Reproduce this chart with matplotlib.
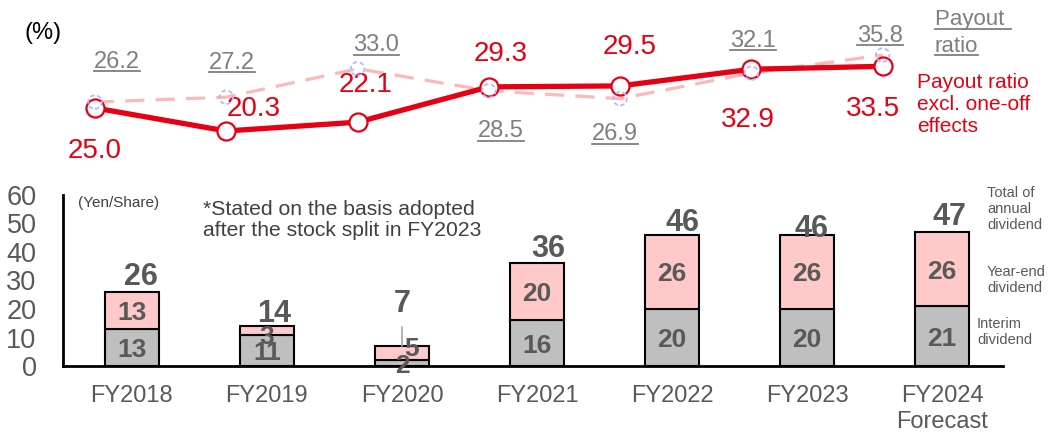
import matplotlib.pyplot as plt
from matplotlib.lines import Line2D

plt.rcParams['font.family'] = ['Liberation Sans', 'DejaVu Sans']

# data
years = ['FY2018', 'FY2019', 'FY2020', 'FY2021', 'FY2022', 'FY2023', 'FY2024\nForecast']
interim = [13, 11, 2, 16, 20, 20, 21]
year_end = [13, 3, 5, 20, 26, 26, 26]
total = [26, 14, 7, 36, 46, 46, 47]
payout_excl = [25.0, 20.3, 22.1, 29.3, 29.5, 32.9, 33.5]
payout = [26.2, 27.2, 33.0, 28.5, 26.9, 32.1, 35.8]

# label layout (pixel offsets)
excl_off = [(0, -40), (27, 25), (8, 40), (12, 36), (10, 42), (-3, -48), (-10, -40)]
payout_off = [(22, 43), (6, 37), (19, 26), (12, -38), (-5, -33), (2, 35), (-3, 22)]
total_off = [(9, 18), (7, 16), (0, 46), (11, 18), (10, 15), (4, 9), (7, 19)]
year_end_off = [(0, 0), (0, -4), (10, 7), (0, 0), (0, 0), (0, 0), (0, 0)]

RED = '#e60012'
GRAY_TXT = '#7f7f7f'
DARK = '#595959'

fig = plt.figure(figsize=(10.52, 4.32), dpi=100)

# ---- top: payout ratio lines
ax_t = fig.add_axes([29.3 / 1052, 1 - 170 / 432, 919 / 1052, 150 / 432])
ax_t.set_xlim(-0.5, 6.5)
ax_t.set_ylim(12.34, 42.95)
ax_t.axis('off')
xs = list(range(len(years)))

ax_t.plot(xs, payout, color='#ffb8b8', lw=2.3, linestyle=(0, (6, 3.5)), zorder=2)
ax_t.plot(xs, payout_excl, color=RED, lw=3.8, marker='o', ms=13,
          mfc='white', mec=RED, mew=1.6, zorder=3)
ax_t.scatter(xs, payout, s=95, facecolors='none', edgecolors='#b8b8ff',
             linewidths=1.3, linestyles=(0, (2.5, 1.5)), zorder=4)

underlined = []
for i in xs:
    ax_t.annotate(f'{payout_excl[i]:.1f}', (i, payout_excl[i]), xytext=excl_off[i],
                  textcoords='offset pixels', ha='center', va='center_baseline',
                  color=RED, fontsize=20)
    t = ax_t.annotate(f'{payout[i]:.1f}', (i, payout[i]), xytext=payout_off[i],
                      textcoords='offset pixels', ha='center', va='center_baseline',
                      color=GRAY_TXT, fontsize=17)
    underlined.append(t)

fig.text(25 / 1052, 1 - 33 / 432, '(%)', fontsize=17, color='black', va='center')
underlined.append(fig.text(935 / 1052, 1 - 20 / 432, 'Payout ', fontsize=16,
                           color=GRAY_TXT, va='center'))
underlined.append(fig.text(935 / 1052, 1 - 46 / 432, 'ratio', fontsize=16,
                           color=GRAY_TXT, va='center'))
fig.text(917 / 1052, 1 - 105 / 432, 'Payout ratio\nexcl. one-off\neffects',
         fontsize=15, color=RED, va='center', ha='left', linespacing=1.2)

# ---- bottom: dividend bars
ax = fig.add_axes([63 / 1052, 1 - 366 / 432, 940 / 1052, 171 / 432])
ax.set_xlim(-0.51, 6.45)
ax.set_ylim(0, 60)
ax.patch.set_alpha(0)
w = 0.4
ax.bar(xs, interim, w, color='#bfbfbf', edgecolor='black', linewidth=1.5, zorder=2)
ax.bar(xs, year_end, w, bottom=interim, color='#ffc9c9', edgecolor='black',
       linewidth=1.5, zorder=2)

for i in xs:
    ax.text(i, interim[i] / 2, str(interim[i]), ha='center', va='center_baseline',
            fontsize=19, fontweight='bold', color=DARK, zorder=3)
    ax.annotate(str(year_end[i]), (i, interim[i] + year_end[i] / 2), xytext=year_end_off[i],
                textcoords='offset pixels', ha='center', va='center_baseline',
                fontsize=19, fontweight='bold', color=DARK, zorder=3)
    arrow = None
    if total_off[i][1] > 30:
        arrow = dict(arrowstyle='-', color='#a6a6a6', lw=1.2, shrinkA=4, shrinkB=0)
    ax.annotate(str(total[i]), (i, total[i]), xytext=total_off[i],
                textcoords='offset pixels', ha='center', va='center_baseline',
                fontsize=22, fontweight='bold', color=DARK, arrowprops=arrow)

for s in ['top', 'right']:
    ax.spines[s].set_visible(False)
for s in ['left', 'bottom']:
    ax.spines[s].set_linewidth(2)
ax.set_yticks(range(0, 61, 10))
ax.tick_params(axis='y', length=0, pad=19, labelsize=19.5, labelcolor=DARK)
ax.set_xticks(xs)
ax.set_xticklabels(years)
ax.tick_params(axis='x', length=0, pad=14, labelsize=17, labelcolor=DARK)

fig.text(78 / 1052, 1 - 203 / 432, '(Yen/Share)', fontsize=11, color='#404040', va='center')
fig.text(203 / 1052, 1 - 220 / 432, '*Stated on the basis adopted\nafter the stock split in FY2023',
         fontsize=15.2, color='#404040', va='center', linespacing=1.1)
fig.text(987 / 1052, 1 - 209 / 432, 'Total of\nannual\ndividend', fontsize=10.5,
         color=DARK, va='center')
fig.text(987 / 1052, 1 - 280 / 432, 'Year-end\ndividend', fontsize=10.5,
         color=DARK, va='center')
fig.text(977 / 1052, 1 - 332 / 432, 'Interim\ndividend', fontsize=10.5,
         color=DARK, va='center')

# underline gray labels
fig.canvas.draw()
r = fig.canvas.get_renderer()
inv = fig.transFigure.inverted()
for t in underlined:
    bb = t.get_window_extent(r)
    y = bb.y0 + 1.5
    (x0, y0), (x1, _) = inv.transform([(bb.x0, y), (bb.x1, y)])
    fig.add_artist(Line2D([x0, x1], [y0, y0], color=GRAY_TXT, lw=1.3,
                          transform=fig.transFigure))

fig.savefig('out.png', dpi=100)
